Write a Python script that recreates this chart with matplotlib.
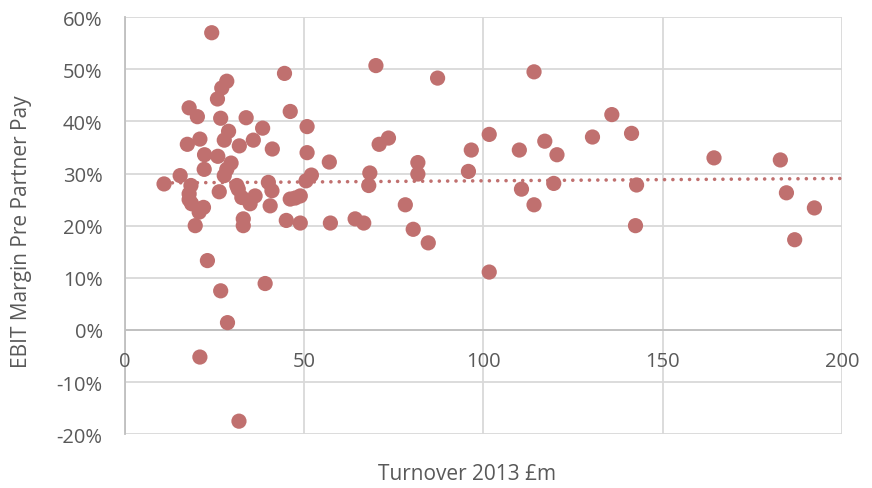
import matplotlib
matplotlib.use("Agg")
import matplotlib.pyplot as plt
import numpy as np
from matplotlib.ticker import FuncFormatter

turnover = [10.9, 15.4, 17.9, 17.4, 18.4, 17.9, 17.9, 18.6, 19.6, 20.7, 21.9, 20.2, 20.9, 22.2, 22.1,
            23.0, 20.9, 24.2, 25.8, 27.0, 28.4, 26.7, 28.9, 27.7, 25.9, 29.6, 28.4, 27.7, 26.3, 26.7,
            28.6, 31.2, 31.6, 32.6, 33.0, 33.0, 34.9, 36.3, 33.8, 31.9, 35.8, 38.4, 31.8, 39.1, 40.0,
            41.0, 40.5, 41.1, 44.5, 46.1, 45.0, 46.1, 47.5, 48.9, 48.9, 50.8, 50.8, 50.5, 52.0, 57.0,
            57.3, 64.2, 66.6, 68.3, 68.0, 70.0, 70.9, 73.5, 78.2, 80.4, 81.7, 81.7, 84.6, 87.2, 95.8,
            96.6, 101.6, 101.6, 110.0, 110.6, 114.1, 114.1, 117.1, 119.6, 120.5, 130.4, 135.8, 141.3,
            142.7, 142.4, 164.3, 182.8, 184.5, 186.8, 192.3]
ebit_margin = [28.0, 29.6, 42.6, 35.6, 27.7, 26.1, 25.0, 24.2, 20.0, 22.6, 23.5, 40.9, 36.6, 33.6, 30.8,
               13.3, -5.2, 57.0, 44.3, 46.4, 47.7, 40.6, 38.1, 36.4, 33.3, 32.0, 30.8, 29.6, 26.5, 7.5,
               1.4, 27.7, 27.0, 25.4, 21.3, 20.0, 24.2, 25.7, 40.7, 35.3, 36.4, 38.7, -17.5, 8.9, 28.3,
               26.7, 23.8, 34.7, 49.2, 41.9, 21.0, 25.1, 25.3, 25.7, 20.5, 39.0, 34.0, 28.6, 29.7, 32.2,
               20.5, 21.3, 20.5, 30.1, 27.7, 50.7, 35.6, 36.8, 24.0, 19.3, 32.1, 29.9, 16.7, 48.3, 30.4,
               34.5, 37.5, 11.1, 34.5, 27.0, 49.5, 24.0, 36.2, 28.1, 33.6, 37.0, 41.3, 37.7,
               27.8, 20.0, 33.0, 32.6, 26.3, 17.3, 23.4]
x_ticks = [0, 50, 100, 150, 200]
y_ticks = [-20, -10, 0, 10, 20, 30, 40, 50, 60]
# linear trendline as shown in the chart (percentage points)
trend_slope = 0.0045
trend_intercept = 28.15
trend_end = 200

plt.rcParams['font.family'] = ['Open Sans', 'DejaVu Sans']
text_col = '#595959'
grid_col = '#D9D9D9'
mk_col = '#C0706F'

fig = plt.figure(figsize=(8.72, 4.89), dpi=100)
ax = fig.add_axes([0.1433, 0.110, 0.8223, 0.853])

x = np.array(turnover)
y = np.array(ebit_margin)
ax.scatter(x, y, s=120, color=mk_col, edgecolors='none', zorder=3)

tx = np.array([x.min(), trend_end])
ax.plot(tx, trend_slope * tx + trend_intercept, color=mk_col, lw=2.6,
        linestyle=(0, (0.01, 2.3)), dash_capstyle='round', zorder=2)

ax.set_xlim(0, 200)
ax.set_ylim(-20, 60)
ax.set_xticks(x_ticks)
ax.set_yticks(y_ticks)
ax.yaxis.set_major_formatter(FuncFormatter(lambda v, p: f"{int(v)}%"))
ax.grid(True, color=grid_col, lw=1.3, zorder=0)
ax.set_axisbelow(True)

for s in ['top', 'right', 'bottom']:
    ax.spines[s].set_visible(False)
ax.spines['left'].set_color('#BFBFBF')
ax.spines['left'].set_linewidth(1.3)
ax.axhline(0, color='#BFBFBF', lw=1.3, zorder=1)

ax.tick_params(axis='both', length=0, labelsize=14.5, colors=text_col)
ax.tick_params(axis='y', pad=16)
ax.set_xticklabels([])
for t in x_ticks:
    ax.text(t, -6.0, str(t), ha='center', va='center', fontsize=14.5, color=text_col)

fig.text(22 / 872, 1 - 232 / 489, 'EBIT Margin Pre Partner Pay', rotation=90,
         ha='center', va='center', fontsize=15, color=text_col)
fig.text(466.7 / 872, 1 - 475 / 489, 'Turnover 2013 £m', ha='center', va='center',
         fontsize=15, color=text_col)

fig.savefig('out.png', dpi=100, facecolor='white')
